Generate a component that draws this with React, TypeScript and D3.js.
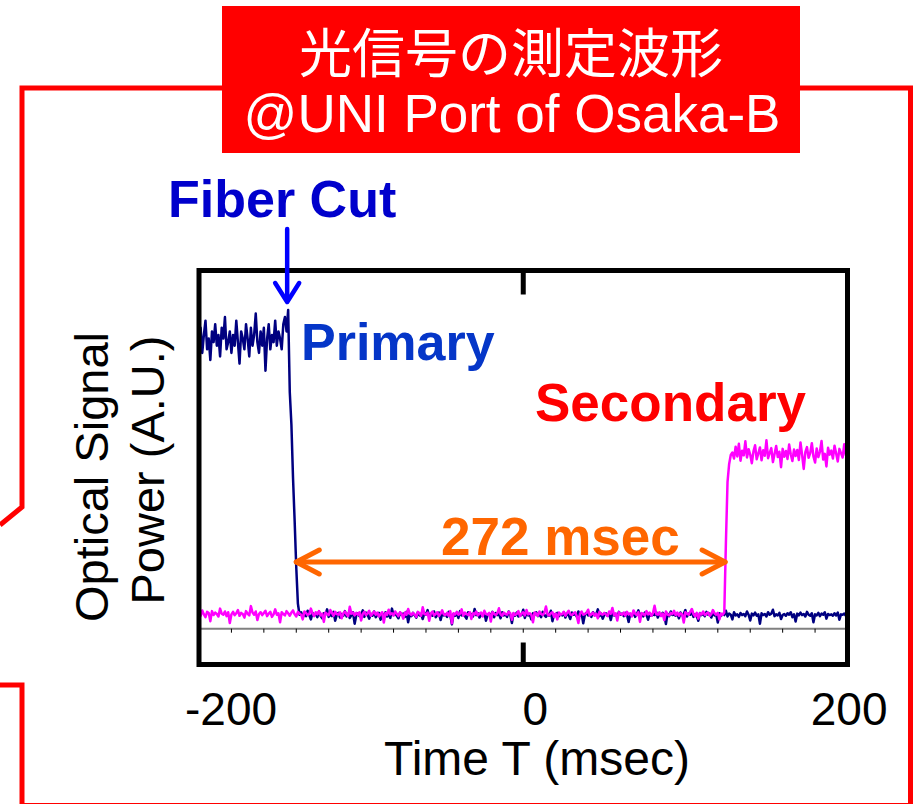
import React from "react";
import * as d3 from "d3";

// ---------- data (A.U., 1 sample per msec) ----------
const T_START = -200;
const xTicks = [-200, 0, 200];
const minorTicks = d3.range(-180, 200, 20);

const primaryHigh = [
  79, 84, 77, 82, 86, 78, 81, 75, 83, 80,
  85, 79, 82, 76, 84, 81, 87, 78, 80, 83,
  77, 82, 79, 86, 80, 74, 83, 81, 78, 85,
  81, 76, 84, 79, 82, 88, 80, 77, 83, 79,
  84, 72, 81, 85, 78, 82, 80, 86, 79, 83,
  81, 78, 85, 87, 83,
];
const primaryDrop = [89, 66, 57, 42, 30, 17, 7];
const primaryLow = [
  3.9, 4.6, 3.1, 4.2, 3.5, 5.0, 3.8, 2.6, 4.4, 3.7,
  4.1, 3.2, 4.8, 3.6, 2.9, 4.3, 3.9, 5.4, 3.3, 4.0,
  3.5, 4.7, 2.2, 3.9, 4.4, 3.1, 4.1, 3.6, 4.9, 3.4,
  4.2, 3.0, 3.8, 4.6, 1.4, 3.7, 4.3, 3.5, 4.0, 5.1,
  3.3, 4.5, 3.9, 2.8, 4.2, 3.6, 4.8, 3.2, 3.9, 4.4,
  2.5, 4.0, 3.7, 4.6, 3.4, 4.1, 3.0, 5.6, 3.8, 4.3,
  3.6, 2.9, 4.5, 3.9, 4.2, 3.3, 4.7, 1.8, 4.0, 3.5,
  4.4, 3.8, 3.1, 4.6, 3.7, 4.0, 2.7, 4.3, 3.9, 5.2,
  3.4, 4.1, 3.6, 4.8, 3.2, 3.9, 4.5, 2.4, 4.2, 3.7,
  4.0, 3.3, 4.7, 3.8, 1.2, 4.1, 3.6, 4.4, 3.0, 4.9,
  3.7, 4.2, 3.5, 2.8, 4.6, 3.9, 4.1, 3.4, 5.5, 3.8,
  4.3, 3.1, 4.0, 3.6, 4.5, 2.2, 3.9, 4.2, 3.5, 4.7,
  3.2, 4.4, 3.8, 4.1, 2.9, 4.6, 3.7, 4.0, 3.3, 4.8,
  3.9, 1.6, 4.2, 3.6, 4.5, 3.4, 4.1, 3.8, 5.3, 3.0,
  4.4, 3.7, 4.0, 2.6, 4.3, 3.9, 4.6, 3.5, 4.1, 3.2,
  4.7, 3.8, 3.3, 4.2, 3.6, 5.0, 2.1, 4.0, 3.9, 4.4,
  3.5, 4.1, 3.7, 4.6, 3.1, 4.3, 3.8, 2.7, 4.5, 3.9,
  4.0, 3.4, 4.8, 3.6, 4.2, 1.5, 3.9, 4.4, 3.7, 4.1,
  3.3, 4.6, 3.8, 4.0, 5.4, 3.5, 4.2, 2.8, 3.9, 4.3,
  3.6, 4.1, 2.4, 4.5, 3.7, 4.0, 3.2, 4.7, 3.9, 4.2,
  3.5, 4.4, 3.8, 1.9, 4.1, 3.6, 4.6, 3.3, 4.0, 5.1,
  3.7, 4.2, 3.4, 4.5, 3.9, 2.5, 4.3, 3.6, 4.0, 3.8,
  4.6, 3.1, 4.1, 3.7, 4.4, 3.9, 1.3, 4.2, 3.5, 4.8,
  3.8, 4.0, 3.6, 4.3, 2.9, 4.5, 3.7, 4.1, 5.2, 3.4,
  4.2, 3.9, 4.6, 3.3, 4.0, 3.6, 2.2, 4.4, 3.8, 4.1,
  3.5, 4.7, 3.9, 4.2, 3.1, 4.5, 3.7, 4.0, 1.7, 4.3,
  3.6, 4.1, 3.8, 5.0, 3.4, 4.2, 3.9, 2.6, 4.6, 3.7,
  4.0, 3.3, 4.4, 3.8, 4.1, 3.5, 4.8, 3.9, 2.3, 4.2,
  3.7, 4.5, 3.6, 4.0, 1.4, 4.3, 3.8, 4.1, 3.4, 4.6,
  3.9, 4.2, 5.3, 3.5, 4.0, 3.7, 4.4, 2.7, 3.8, 4.1,
  3.6, 4.3, 3.9, 4.6, 3.2, 4.0, 2.0, 4.2, 3.7, 4.5,
  3.8, 4.1, 3.4, 4.7, 3.9, 3.6, 4.3, 1.8, 4.0, 3.7,
  4.4, 3.5, 4.2, 3.9, 4.6, 2.8, 4.1, 3.8, 4.0, 3.6,
  4.3, 3.7, 4.5, 2.5, 4.0, 3.9, 4.2, 3.6, 4.1,
];

const secondaryLow = [
  4.3, 3.6, 5.1, 4.0, 3.2, 4.7, 4.4, 2.1, 4.9, 3.8,
  4.5, 4.1, 3.4, 5.6, 4.2, 3.9, 4.8, 3.5, 4.6, 1.6,
  4.0, 4.7, 3.8, 4.3, 5.2, 3.6, 4.4, 4.1, 3.1, 4.9,
  4.2, 3.7, 6.3, 4.5, 3.9, 4.8, 2.4, 4.1, 4.6, 3.8,
  4.4, 5.0, 3.5, 4.2, 4.7, 3.3, 4.0, 5.4, 3.9, 4.3,
  1.8, 4.6, 4.1, 3.7, 4.9, 4.3, 3.6, 4.5, 5.1, 4.0,
  3.4, 4.7, 4.2, 3.9, 2.6, 4.8, 4.4, 3.8, 4.1, 5.6,
  4.3, 3.5, 4.6, 4.0, 4.9, 3.7, 4.2, 1.9, 4.5, 4.1,
  3.8, 5.2, 4.4, 3.6, 4.7, 4.1, 3.9, 4.6, 2.9, 4.3,
  4.8, 4.0, 3.5, 6.1, 4.2, 4.5, 3.7, 4.4, 3.9, 4.6,
  2.3, 4.1, 4.7, 3.8, 4.3, 5.0, 3.6, 4.2, 4.8, 3.9,
  4.5, 3.4, 4.1, 4.6, 1.7, 4.4, 3.9, 5.3, 4.0, 4.3,
  3.7, 4.8, 4.2, 3.5, 4.6, 4.1, 2.8, 4.5, 3.9, 5.5,
  4.2, 3.8, 4.4, 4.0, 3.3, 4.7, 4.3, 3.6, 6.0, 4.1,
  3.9, 4.5, 2.2, 4.3, 4.8, 3.7, 4.1, 4.6, 3.5, 4.2,
  5.1, 4.0, 3.8, 4.4, 3.6, 4.9, 1.5, 4.3, 4.0, 4.7,
  3.9, 4.2, 5.4, 3.6, 4.5, 4.1, 3.8, 4.6, 2.7, 4.3,
  4.0, 4.8, 3.7, 4.2, 4.5, 3.4, 5.0, 4.1, 3.9, 4.4,
  2.0, 4.6, 4.2, 3.8, 4.3, 5.7, 4.0, 3.6, 4.5, 4.1,
  3.9, 4.7, 4.3, 2.5, 4.4, 3.8, 4.1, 4.9, 3.5, 4.2,
  4.6, 3.7, 5.2, 4.0, 4.3, 3.9, 1.8, 4.5, 4.2, 3.6,
  4.8, 4.1, 3.8, 4.4, 6.2, 4.0, 3.7, 4.3, 4.6, 3.3,
  4.2, 2.6, 4.5, 3.9, 4.1, 4.7, 3.6, 4.4, 5.0, 4.0,
  3.8, 4.3, 4.6, 3.5, 1.6, 4.2, 4.8, 3.9, 4.1, 4.4,
  5.3, 3.7, 4.0, 4.5, 3.6, 4.2, 2.9, 4.7, 4.1, 3.9,
  4.4, 4.0, 3.5, 4.8, 4.2, 5.8, 3.8, 4.3, 2.3, 4.6,
  4.1, 3.9, 4.5, 3.6, 4.7, 4.0, 4.3, 3.4, 5.1, 4.2,
  3.8, 4.6, 1.9, 4.4, 4.1, 3.7, 4.9, 4.0, 4.5, 3.6,
  4.3, 6.4, 4.1, 3.9, 4.6, 3.5, 4.2, 2.4, 4.8, 4.0,
  3.7, 4.4, 4.1, 5.0, 3.8, 4.5, 3.6, 4.3, 4.0, 1.7,
  4.6, 4.2, 3.9, 4.7, 5.5, 4.1, 3.5, 4.4, 2.8, 4.3,
  4.0, 4.8, 3.8, 4.2, 4.5, 3.6, 4.1, 5.2, 4.3, 3.9,
  4.4, 2.6, 4.2, 3.9, 4.5,
];
const secondaryRise = [24, 41, 46, 48.5];
const secondaryHigh = [
  49.2, 47.5, 50.8, 48.1, 51.6, 46.9, 49.7, 48.4, 52.3, 47.8,
  50.1, 48.6, 46.2, 49.5, 51.2, 47.3, 48.9, 50.6, 47.0, 49.8,
  48.3, 52.6, 47.6, 49.1, 50.4, 46.5, 48.8, 51.0, 47.9, 49.4,
  45.1, 50.2, 48.0, 49.6, 47.4, 51.4, 48.7, 46.8, 50.0, 48.2,
  49.9, 47.1, 52.0, 48.5, 44.6, 49.3, 50.7, 47.7, 49.0, 51.8,
  48.1, 46.4, 50.3, 47.9, 49.4, 52.4, 47.2, 48.8, 45.3, 50.5,
  48.6, 49.7, 47.5, 51.1, 48.9, 46.7, 50.2, 49.0, 47.8, 51.5,
  48.4, 49.2,
];

const CUT_T = -145;
const PRIMARY_END_T = -140;
const SECONDARY_START_T = 124.5;

const primary = [...primaryHigh, ...primaryDrop, ...primaryLow].map((v, i) => ({ t: T_START + i, v }));
const secondary = [...secondaryLow, ...secondaryRise, ...secondaryHigh].map((v, i) => ({ t: T_START + i, v }));

// ---------- layout ----------
const W = 917;
const H = 804;
const FL = 199, FR = 847.5, FT = 270.5, FB = 664.5;
const SANS = "'Liberation Sans', Arial, Helvetica, sans-serif";
const CJK = "'Noto Sans CJK JP', 'Noto Sans CJK SC', sans-serif";

export default function App() {
  const x = d3.scaleLinear().domain([-200, 200]).range([FL, FR]);
  const y = d3.scaleLinear().domain([-10, 100]).range([FB, FT]);
  const line = d3
    .line<{ t: number; v: number }>()
    .x((d) => x(d.t))
    .y((d) => y(d.v));

  const labelPos = [
    { anchor: "start", dx: -14 },
    { anchor: "middle", dx: 12 },
    { anchor: "end", dx: 40 },
  ];

  const xa = x(PRIMARY_END_T);
  const xb = x(SECONDARY_START_T);
  const ay = 562;
  const ax = x(CUT_T) - 1;

  return (
    <div style={{ position: "absolute", left: 0, top: 0 }}>
      <svg width={W} height={H} style={{ display: "block", background: "#fff" }}>
        <defs>
          <clipPath id="plotclip">
            <rect x={FL} y={FT} width={FR - FL} height={FB - FT} />
          </clipPath>
        </defs>

        {/* callout outline */}
        <path
          d="M0,525 L22,507 L22,88 L910.5,88 L910.5,805.5 L22,805.5 L22,685 L0,685"
          fill="none"
          stroke="#FF0000"
          strokeWidth={5}
        />

        {/* title box */}
        <rect x={222} y={6} width={578} height={147} fill="#FF0000" />
        <text x={511} y={73} textAnchor="middle" fill="#fff" fontFamily={CJK} fontSize={53}>
          光信号の測定波形
        </text>
        <text x={512} y={132} textAnchor="middle" fill="#fff" fontFamily={SANS} fontSize={53}>
          @UNI Port of Osaka-B
        </text>

        {/* baseline and minor ticks */}
        <line x1={FL} x2={FR} y1={y(0)} y2={y(0)} stroke="#808080" strokeWidth={2} />
        {minorTicks.map((t) => (
          <line key={t} x1={x(t)} x2={x(t)} y1={y(0)} y2={y(0) + 4} stroke="#000" strokeWidth={1} />
        ))}

        {/* traces */}
        <g clipPath="url(#plotclip)">
          <path d={line(primary) || ""} fill="none" stroke="#000080" strokeWidth={2.5} strokeLinejoin="round" />
          <path d={line(secondary) || ""} fill="none" stroke="#FF00FF" strokeWidth={2.5} strokeLinejoin="round" />
        </g>

        {/* frame */}
        <rect x={FL} y={FT} width={FR - FL} height={FB - FT} fill="none" stroke="#000" strokeWidth={5} />
        <line x1={x(0)} x2={x(0)} y1={FT} y2={FT + 24} stroke="#000" strokeWidth={5} />
        <line x1={x(0)} x2={x(0)} y1={FB - 22} y2={FB} stroke="#000" strokeWidth={5} />

        {/* tick labels */}
        {xTicks.map((t, i) => (
          <text
            key={t}
            x={x(t) + labelPos[i].dx}
            y={725}
            textAnchor={labelPos[i].anchor as any}
            fontFamily={SANS}
            fontSize={46}
            fill="#000"
          >
            {t}
          </text>
        ))}
        <text x={537} y={775} textAnchor="middle" fontFamily={SANS} fontSize={48} fill="#000">
          Time T (msec)
        </text>

        {/* y label */}
        <text transform="translate(108,477) rotate(-90)" textAnchor="middle" fontFamily={SANS} fontSize={47} fill="#000">
          Optical Signal
        </text>
        <text transform="translate(164,470) rotate(-90)" textAnchor="middle" fontFamily={SANS} fontSize={47} fill="#000">
          Power (A.U.)
        </text>

        {/* annotations */}
        <text x={168} y={217} fontFamily={SANS} fontWeight="bold" fontSize={52} fill="#0000CC">
          Fiber Cut
        </text>
        <g stroke="#0000FF" strokeWidth={4.5} fill="none" strokeLinecap="round" strokeLinejoin="round">
          <line x1={ax} x2={ax} y1={229} y2={301} />
          <polyline points={`${ax - 12},${283} ${ax},${302} ${ax + 12},${283}`} />
        </g>
        <text x={301} y={360} fontFamily={SANS} fontWeight="bold" fontSize={52} fill="#0536C8">
          Primary
        </text>
        <text x={535} y={421} fontFamily={SANS} fontWeight="bold" fontSize={53} fill="#FF0000">
          Secondary
        </text>
        <text x={441} y={555} fontFamily={SANS} fontWeight="bold" fontSize={53} fill="#FF6600">
          272 msec
        </text>
        <g stroke="#FF6600" strokeWidth={5} fill="none" strokeLinecap="round" strokeLinejoin="round">
          <line x1={xa} x2={xb} y1={ay} y2={ay} />
          <polyline points={`${xa + 23},${ay - 12} ${xa},${ay} ${xa + 23},${ay + 12}`} />
          <polyline points={`${xb - 23},${ay - 12} ${xb},${ay} ${xb - 23},${ay + 12}`} />
        </g>
      </svg>
    </div>
  );
}
